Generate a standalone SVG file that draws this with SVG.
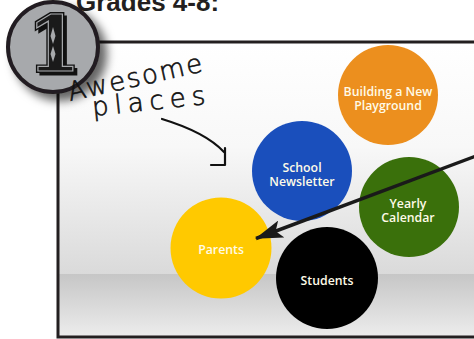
<svg xmlns="http://www.w3.org/2000/svg" width="474" height="339" viewBox="0 0 474 339">
  <defs>
    <linearGradient id="wall" x1="0" y1="0" x2="0" y2="1">
      <stop offset="0" stop-color="#ffffff"/>
      <stop offset="0.45" stop-color="#f8f8f8"/>
      <stop offset="1" stop-color="#dadada"/>
    </linearGradient>
    <linearGradient id="floor" x1="0" y1="0" x2="0" y2="1">
      <stop offset="0" stop-color="#c6c6c6"/>
      <stop offset="1" stop-color="#ececec"/>
    </linearGradient>
    <filter id="shadow" x="-30%" y="-30%" width="170%" height="170%">
      <feDropShadow dx="7" dy="7" stdDeviation="5" flood-color="#000" flood-opacity="0.6"/>
    </filter>
    <marker id="head" viewBox="0 0 28 18" refX="27" refY="9" markerWidth="28" markerHeight="18" markerUnits="userSpaceOnUse" orient="auto">
      <path d="M0,0 L28,9 L0,18 L6,9 z" fill="#1a1a1a"/>
    </marker>
    <style>
      .frame { stroke: #231f20; stroke-width: 3; fill: none; }
      .lbl { font-family: "Open Sans", "Noto Sans", sans-serif; font-weight: 600; font-size: 12.3px; fill: #fffbe8; text-anchor: middle; }
      .hand { font-family: "DejaVu Sans", sans-serif; font-weight: 200; font-size: 26px; fill: #111; stroke: #111; stroke-width: 0.6; }
      .ink { fill: none; stroke: #111; stroke-width: 2.2; stroke-linecap: round; stroke-linejoin: round; }
      .num { font-family: "DejaVu Serif", serif; font-weight: bold; font-size: 76px; text-anchor: middle; }
    </style>
  </defs>

  <rect x="0" y="0" width="474" height="339" fill="#ffffff"/>

  <g id="title">
    <text x="76" y="11" font-family="Liberation Sans, Arial, sans-serif" font-weight="bold" font-size="26" fill="#231f20">Grades 4-8:</text>
  </g>

  <g id="frame">
    <rect x="58" y="42" width="420" height="232" fill="url(#wall)"/>
    <rect x="58" y="274" width="420" height="62" fill="url(#floor)"/>
    <path class="frame" d="M58,42 L476,42 M58,42 L58,337 L476,337"/>
  </g>

  <g id="badge">
    <circle cx="53" cy="47" r="45" fill="#a7a9ac" stroke="#231f20" stroke-width="4" filter="url(#shadow)"/>
    <text class="num" x="57" y="74" fill="#111" stroke="#111" stroke-width="3">1</text>
    <text class="num" x="54" y="71" fill="#111" stroke="#111" stroke-width="4">1</text>
    <text class="num" x="54" y="71" fill="#1a1a1a" stroke="#a7a9ac" stroke-width="1.2">1</text>
    <path d="M53,27 L55.5,36 L53,44 L50.5,36 z M53,46 L55.5,54 L53,62 L50.5,54 z" fill="#a7a9ac"/>
  </g>

  <g id="handwriting">
    <text class="hand" x="70" y="101" letter-spacing="2" transform="rotate(-12.5 70 101)">Awesome</text>
    <text class="hand" x="93" y="116" letter-spacing="6" transform="rotate(-6 93 116)">places</text>
    <path class="ink" d="M162,119 C185,126 210,137 224,152"/>
    <path class="ink" d="M225,148 L225,165 L211,165"/>
  </g>

  <g id="orange">
    <circle cx="388" cy="95" r="50" fill="#ec8f1e"/>
    <text class="lbl" x="388" y="96">Building a New</text>
    <text class="lbl" x="388" y="110">Playground</text>
  </g>

  <g id="blue">
    <circle cx="302" cy="171" r="50" fill="#1a4fbc"/>
    <text class="lbl" x="302" y="172">School</text>
    <text class="lbl" x="302" y="186">Newsletter</text>
  </g>

  <g id="green">
    <circle cx="409" cy="207" r="50" fill="#3a700b"/>
    <text class="lbl" x="408" y="208">Yearly</text>
    <text class="lbl" x="408" y="222">Calendar</text>
  </g>

  <g id="yellow">
    <circle cx="221" cy="248" r="50.5" fill="#ffc900"/>
    <text class="lbl" x="221" y="254">Parents</text>
  </g>

  <g id="black">
    <circle cx="327" cy="278" r="51" fill="#000000"/>
    <text class="lbl" x="327" y="285">Students</text>
  </g>

  <g id="connectors">
    <line x1="476" y1="156" x2="256" y2="238.5" stroke="#1a1a1a" stroke-width="3.5" marker-end="url(#head)"/>
  </g>
</svg>
